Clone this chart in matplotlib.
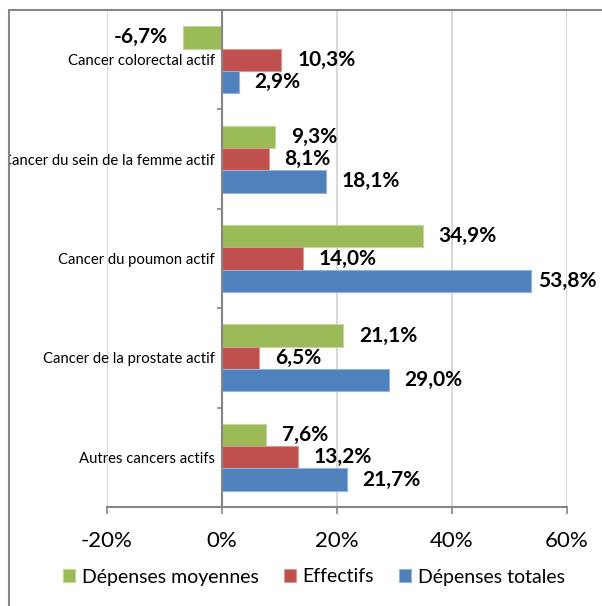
import matplotlib
matplotlib.use("Agg")
import matplotlib.pyplot as plt
import numpy as np
from matplotlib.patches import Rectangle
from matplotlib.ticker import FixedLocator, FuncFormatter
from matplotlib.transforms import Bbox, TransformedBbox

plt.rcParams["font.family"] = ["Lato", "DejaVu Sans"]

categories = [
    "Cancer colorectal actif",
    "Cancer du sein de la femme actif",
    "Cancer du poumon actif",
    "Cancer de la prostate actif",
    "Autres cancers actifs",
]
series_names = ["Dépenses moyennes", "Effectifs", "Dépenses totales"]
depenses_moyennes = [-6.7, 9.3, 34.9, 21.1, 7.6]
effectifs = [10.3, 8.1, 14.0, 6.5, 13.2]
depenses_totales = [2.9, 18.1, 53.8, 29.0, 21.7]
x_ticks = [-20, 0, 20, 40, 60]

colors = ["#9BBB59", "#C0504D", "#4F81BD"]
edges = ["#C3D69B", "#D99694", "#95B3D7"]
axis_grey = "#868686"

W, H = 602, 606
fig = plt.figure(figsize=(W / 100, H / 100), dpi=100)
ax = fig.add_axes([107 / W, (H - 507) / H, 460 / W, 497 / H])

y = np.arange(len(categories))
bar_h = 0.225
all_series = [depenses_moyennes, effectifs, depenses_totales]
for k, (vals, name) in enumerate(zip(all_series, series_names)):
    pos = y + (k - 1) * bar_h
    ax.barh(pos, vals, height=bar_h, color=colors[k], edgecolor=edges[k],
            linewidth=0.8, label=name, zorder=2)
    for v, p in zip(vals, pos):
        txt = f"{v:.1f}".replace(".", ",") + "%"
        if v < 0:
            off, ha = -11.5, "right"
        else:
            off, ha = (5 if v > 50 else 11.5), "left"
        ax.annotate(txt, xy=(v, p), xytext=(off, 0), textcoords="offset points",
                    ha=ha, va="center", fontsize=15, fontweight="bold",
                    color="black", zorder=4)

ax.set_xlim(-20, 60)
ax.set_ylim(len(categories) - 0.5, -0.5)

# axes and grid
for s in ["top", "right"]:
    ax.spines[s].set_visible(False)
ax.spines["left"].set_position(("data", 0))
ax.spines["left"].set_color(axis_grey)
ax.spines["left"].set_linewidth(1.5)
ax.spines["left"].set_zorder(3)
ax.spines["bottom"].set_color(axis_grey)
ax.spines["bottom"].set_linewidth(1.5)

ax.set_xticks(x_ticks)
ax.xaxis.set_major_formatter(FuncFormatter(lambda v, p: f"{v:.0f}%"))
ax.tick_params(axis="x", which="major", direction="out", length=5, width=1.2,
               color=axis_grey, labelsize=16, pad=12)
ax.grid(axis="x", color="#D9D9D9", linewidth=1.5, zorder=0)
ax.set_axisbelow(True)

ax.yaxis.set_major_locator(FixedLocator(np.arange(-0.5, len(categories), 1.0)))
ax.yaxis.set_major_formatter(FuncFormatter(lambda v, p: ""))
ax.yaxis.set_minor_locator(FixedLocator(y))
ax.set_yticklabels(categories, minor=True)
ax.tick_params(axis="y", which="major", direction="out", length=3.6, width=1.2,
               color=axis_grey)
ax.tick_params(axis="y", which="minor", length=0, labelsize=10.7, pad=5)

# the long label is cut by the chart border, as in the source
clip = TransformedBbox(Bbox([[10 / W, 0], [1, 1]]), fig.transFigure)
for lbl in ax.get_yticklabels(minor=True):
    lbl.set_clip_box(clip)
    lbl.set_clip_on(True)

ax.legend(loc="center", bbox_to_anchor=(314 / W, 1 - 577 / H),
          bbox_transform=fig.transFigure, ncol=3, frameon=False, fontsize=14,
          handlelength=0.6, handleheight=0.6, handletextpad=0.35,
          columnspacing=1.3)

# chart border (cropped on the right and bottom)
fig.add_artist(Rectangle((8.5 / W, -0.1), 1.2, 1 - 10 / H + 0.1,
                         transform=fig.transFigure, fill=False,
                         edgecolor=axis_grey, linewidth=1.5))

fig.savefig("out.png", dpi=100)
